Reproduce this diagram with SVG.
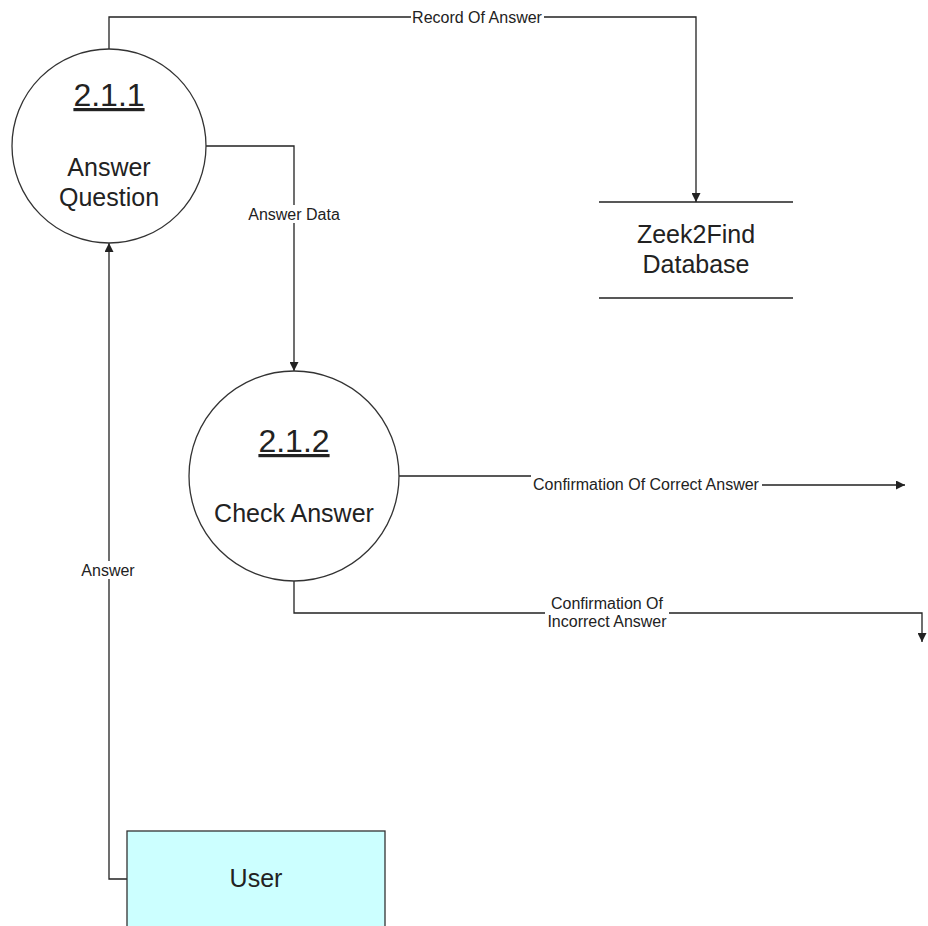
<svg xmlns="http://www.w3.org/2000/svg" width="928" height="926" viewBox="0 0 928 926">
<style>
text{font-family:"Liberation Sans",Arial,sans-serif;fill:#222}
.c{fill:#fff;stroke:#333;stroke-width:1.3}
.n{font-size:25px;text-anchor:middle}
.id{font-size:32px;text-anchor:middle;text-decoration:underline}
.l{font-size:16px;text-anchor:middle}
.w{fill:none;stroke:#222;stroke-width:1.3}
.bg{fill:#fff}
</style>
<defs>
<marker id="a" viewBox="0 0 10 10" refX="10" refY="5" markerWidth="9" markerHeight="9" markerUnits="userSpaceOnUse" orient="auto"><path d="M0,0L10,5L0,10z" fill="#222"/></marker>
</defs>
<rect width="928" height="926" fill="#fff"/>
<g id="connectors">
<path class="w" d="M109,50V17H696V202" marker-end="url(#a)"/>
<rect class="bg" x="411" y="8" width="133" height="18"/>
<text class="l" x="477" y="23">Record Of Answer</text>
<path class="w" d="M206,146H294V371" marker-end="url(#a)"/>
<rect class="bg" x="246" y="205" width="96" height="18"/>
<text class="l" x="294" y="220">Answer Data</text>
<path class="w" d="M399,476H645V485H905" marker-end="url(#a)"/>
<rect class="bg" x="531" y="470" width="231" height="22"/>
<text class="l" x="646" y="490">Confirmation Of Correct Answer</text>
<path class="w" d="M294,581V613H922V642" marker-end="url(#a)"/>
<rect class="bg" x="545" y="594" width="124" height="38"/>
<text class="l" x="607" y="609">Confirmation Of</text>
<text class="l" x="607" y="627">Incorrect Answer</text>
<path class="w" d="M127,879H109V243" marker-end="url(#a)"/>
<rect class="bg" x="79" y="561" width="58" height="18"/>
<text class="l" x="108" y="576">Answer</text>
</g>
<g id="p211">
<circle class="c" cx="109" cy="146" r="97"/>
<text class="id" x="109" y="106">2.1.1</text>
<text class="n" x="109" y="176">Answer</text>
<text class="n" x="109" y="206">Question</text>
</g>
<g id="p212">
<circle class="c" cx="294" cy="476" r="105"/>
<text class="id" x="294" y="452">2.1.2</text>
<text class="n" x="294" y="522">Check Answer</text>
</g>
<g id="db">
<path class="w" d="M599,202H793M599,298H793"/>
<text class="n" x="696" y="243">Zeek2Find</text>
<text class="n" x="696" y="273">Database</text>
</g>
<g id="user">
<rect x="127" y="831" width="258" height="110" fill="#ccffff" stroke="#333" stroke-width="1.3"/>
<text class="n" x="256" y="887">User</text>
</g>
</svg>
